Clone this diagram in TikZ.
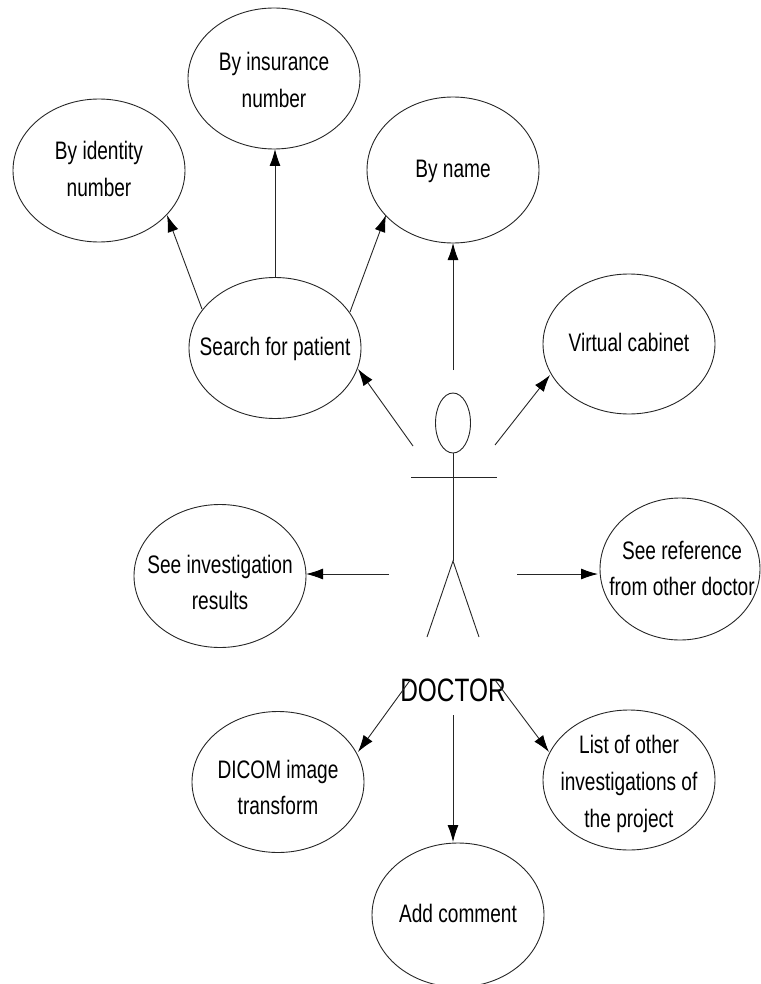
\documentclass[tikz,border=0pt]{standalone}
\usepackage{fontspec}
\setmainfont{Liberation Sans}
\usetikzlibrary{shapes.geometric,arrows.meta}
\definecolor{ink}{gray}{0.15}
\tikzset{
 usecase/.style={draw=ink,ellipse,line width=0.9pt,inner sep=0pt,outer sep=0pt,align=center,font=\fontsize{23}{33.5}\selectfont},
 conn/.style={draw=ink,line width=0.9pt,-{Latex[length=17pt,width=11pt,black]}},
 body/.style={draw=ink,line width=0.9pt}
}
\newcommand{\lbl}[2][0pt]{\makebox[0pt][c]{\raisebox{\dimexpr-7pt-#1\relax}[0pt][0pt]{\scalebox{0.83}[1.1]{\begin{tabular}[c]{@{}c@{}}#2\end{tabular}}}}}
\begin{document}
\begin{tikzpicture}[x=1pt,y=-1pt]
\useasboundingbox (0,0) rectangle (760,984);
\node[usecase,minimum width=172pt,minimum height=143pt] (identity) at (99,170.5) {\lbl{By identity\\number}};
\node[usecase,minimum width=172pt,minimum height=141pt] (insurance) at (274,78.5) {\lbl[3pt]{By insurance\\number}};
\node[usecase,minimum width=172pt,minimum height=146pt] (name) at (453,170) {\lbl{By name}};
\node[usecase,minimum width=172pt,minimum height=141pt] (search) at (275,348) {\lbl{Search for patient}};
\node[usecase,minimum width=172pt,minimum height=140pt] (cabinet) at (629,344) {\lbl{Virtual cabinet}};
\node[usecase,minimum width=172pt,minimum height=143pt] (results) at (220,576) {\lbl[8pt]{See investigation\\results}};
\node[usecase,minimum width=160pt,minimum height=142pt] (reference) at (680,569) {\hspace{4pt}\lbl[1pt]{See reference\\from other doctor}};
\node[usecase,minimum width=172pt,minimum height=141pt] (dicom) at (278,782) {\lbl[7pt]{DICOM image\\transform}};
\node[usecase,minimum width=172pt,minimum height=140pt] (list) at (629,780) {\lbl[3pt]{List of other\\investigations of\\the project}};
\node[usecase,minimum width=172pt,minimum height=144pt] (comment) at (458,915) {\lbl{Add comment}};
% actor
\node[draw=ink,ellipse,line width=0.9pt,minimum width=35pt,minimum height=60pt,inner sep=0pt,outer sep=0pt] (head) at (453,423) {};
\coordinate (hip) at (453,561);
\coordinate (armL) at (411,477);
\coordinate (armR) at (497,477);
\coordinate (footL) at (427,637);
\coordinate (footR) at (479,637);
\draw[body] (head.south) -- (hip);
\draw[body] (armL) -- (armR);
\draw[body] (footL) -- (hip) -- (footR);
\node[inner sep=0pt,font=\fontsize{27}{30}\selectfont] (doctor) at (453,690) {\scalebox{0.905}[1.2]{DOCTOR}};
% connector anchors
\coordinate (a1) at (202,309);
\coordinate (a2) at (275,277);
\coordinate (a3) at (350,312);
\coordinate (a4) at (453,370);
\coordinate (a5) at (413,446);
\coordinate (a6) at (495,445);
\coordinate (a7) at (389,574);
\coordinate (a8) at (517,574);
\coordinate (a9) at (411,679);
\coordinate (a10) at (495,680);
\coordinate (a11) at (453,715);
\coordinate (t1) at (167,215);
\coordinate (t2) at (275,149);
\coordinate (t3) at (386,215);
\path[conn] (a1) -- (t1);
\path[conn] (a2) -- (t2);
\path[conn] (a3) -- (t3);
\path[conn] (a4) -- (453,243);
\path[conn] (a5) -- (358,369);
\path[conn] (a6) -- (550,375);
\path[conn] (a7) -- (306,574);
\path[conn] (a8) -- (598,574);
\path[conn] (a9) -- (358,752);
\path[conn] (a10) -- (549,752);
\path[conn] (a11) -- (453,842);
\end{tikzpicture}
\end{document}
